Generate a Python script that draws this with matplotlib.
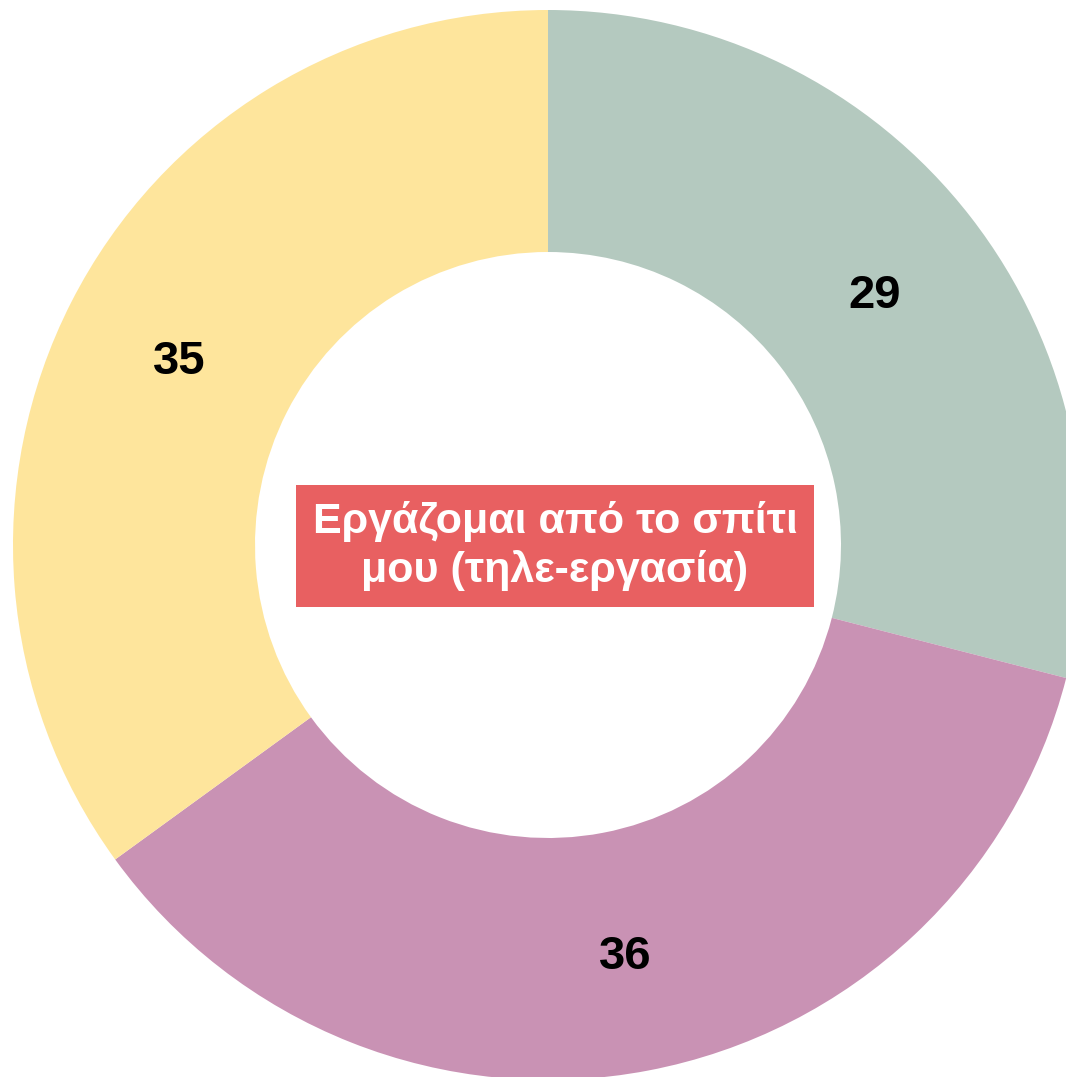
import matplotlib.pyplot as plt

# slice values, clockwise from the top
categories = ['A', 'B', 'C']
values = [29, 36, 35]
colors = ['#b4c9bf', '#c992b4', '#fee59c']
center_label = 'Εργάζομαι από το σπίτι\nμου (τηλε-εργασία)'

W, H = 1066, 1077
fig = plt.figure(figsize=(W / 100, H / 100), dpi=100)
ax = fig.add_axes([0, 0, 1, 1])

outer_r = 535
inner_r = 293
cx, cy = 548, H - 545
total = sum(values)

wedges, texts, autotexts = ax.pie(
    values, colors=colors, startangle=90, counterclock=False,
    radius=outer_r, center=(cx, cy),
    wedgeprops=dict(width=outer_r - inner_r, linewidth=0),
    autopct=lambda p: f'{round(p * total / 100):.0f}',
    pctdistance=(outer_r + inner_r) / 2 / outer_r,
    frame=True)
ax.set_xlim(0, W)
ax.set_ylim(0, H)
ax.set_aspect('equal')
ax.axis('off')

# value labels in the ring
for t in autotexts:
    t.set_fontsize(34)
    t.set_fontweight('bold')
    t.set_fontfamily('Liberation Sans')
    t.set_color('black')
    t.set_verticalalignment('center_baseline')

# title box in the hole
ax.text(cx + 7, cy - 1, center_label, ha='center', va='center',
        fontsize=31, fontweight='bold', color='white',
        family='Liberation Sans', linespacing=1.25,
        bbox=dict(boxstyle='square,pad=0.38', facecolor='#e86061', edgecolor='none'))

fig.savefig('out.png', dpi=100)
